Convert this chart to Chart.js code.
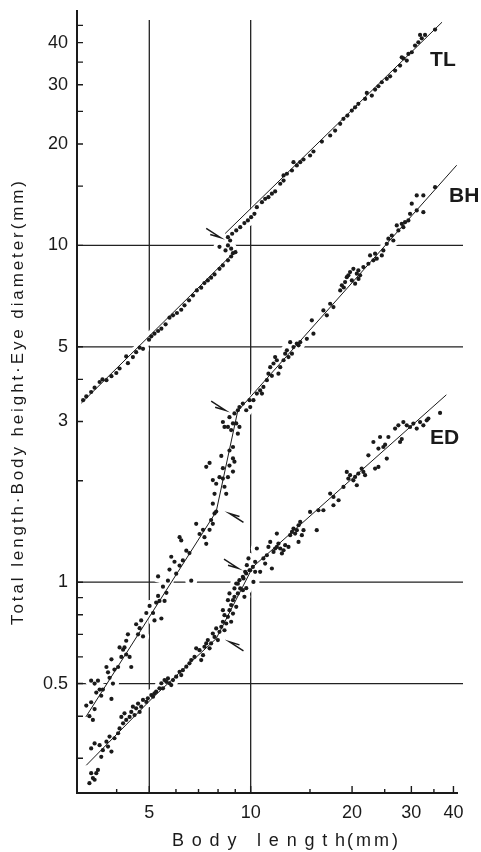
<!DOCTYPE html>
<html>
<head>
<meta charset="utf-8">
<script src="https://cdn.jsdelivr.net/npm/chart.js@4.4.1/dist/chart.umd.min.js"></script>
<style>
  html, body { margin: 0; padding: 0; background: #fff; }
  #wrap { width: 481px; height: 852px; position: relative; }
</style>
</head>
<body>
<div id="wrap"><canvas id="growth"></canvas></div>
<script>
// Relative growth: total length (TL), body height (BH), eye diameter (ED) against body length, mm

// TL measurements
const tlLen = [3.18,3.25,3.36,3.44,3.56,3.63,3.73,3.86,3.99,4.08,4.27,4.32,4.47,4.57,4.68,4.79,4.99,5.07,5.18,5.31,
  5.43,5.59,5.74,5.88,6.04,6.22,6.36,6.56,6.74,6.92,7.13,7.29,7.46,7.63,7.81,8.08,8.27,8.56,8.75,9.01,
  8.08,8.42,8.56,8.69,8.86,8.75,8.56,8.81,9.06,9.31,9.58,9.81,10.03,10.26,10.43,10.80,11.04,11.29,11.56,11.82,
  12.24,12.52,12.81,13.26,13.71,14.03,14.35,15.01,15.36,16.27,17.22,17.81,18.44,18.86,19.38,19.97,20.42,20.88,21.86,22.12,
  23.41,23.95,24.51,25.36,25.94,26.84,27.77,28.40,29.07,30.08,30.76,31.47,32.21,32.94,35.28,12.52,13.40,22.89,28.09,29.39,31.84];
const tlVal = [3.47,3.56,3.67,3.78,3.93,4.00,3.98,4.09,4.18,4.31,4.68,4.47,4.66,4.82,4.97,4.93,5.25,5.37,5.47,5.57,
  5.66,5.83,6.10,6.20,6.30,6.44,6.64,6.87,7.10,7.35,7.49,7.73,7.87,8.02,8.20,8.52,8.72,9.03,9.27,9.55,
  9.90,9.66,10.0,10.34,9.48,9.78,10.58,10.83,11.08,11.33,11.65,11.86,12.13,12.41,12.99,13.44,13.75,13.91,14.24,14.46,
  15.24,15.58,16.32,16.69,17.28,17.66,17.99,18.49,19.00,20.34,21.20,21.93,22.96,23.76,24.30,25.14,25.71,26.32,27.23,28.37,
  29.02,29.69,30.51,31.23,31.78,33.04,34.20,35.94,35.38,37.45,39.20,40.10,41.21,42.18,43.73,16.13,17.66,27.86,36.19,37.04,42.18];

// BH measurements
const bhLen = [3.25,3.36,3.44,3.32,3.40,3.36,3.44,3.52,3.48,3.60,3.56,3.64,3.86,3.73,3.77,3.86,3.81,3.94,3.90,4.04,
  4.13,4.18,4.27,4.32,4.37,4.27,4.42,4.08,4.22,4.57,4.68,4.63,4.79,4.73,4.90,5.01,5.13,5.18,5.24,5.31,
  5.36,5.43,5.55,5.62,5.49,5.31,5.68,5.74,5.81,5.94,6.01,6.15,6.29,6.44,6.66,6.58,6.15,6.22,6.89,7.05,
  7.22,7.29,7.38,7.55,7.72,7.63,7.81,7.90,
  7.72,7.81,7.72,7.90,8.08,8.27,8.36,8.46,8.56,8.65,8.86,8.95,8.86,8.18,7.38,7.55,8.27,8.86,8.65,8.75,
  8.56,8.86,9.06,9.16,9.26,8.36,8.27,8.65,8.95,9.16,9.26,9.48,9.70,9.92,
  9.97,10.19,10.43,10.67,10.91,11.17,11.29,11.43,11.69,11.82,11.96,12.09,12.24,12.52,12.66,12.81,13.10,13.26,13.40,13.71,
  13.87,14.03,14.68,15.19,15.36,16.44,16.83,17.22,17.61,18.44,18.65,19.07,19.29,19.73,19.97,20.18,20.66,20.88,21.13,20.42,
  21.61,22.36,22.62,23.14,23.41,23.68,24.51,24.77,25.36,25.64,26.24,26.52,27.15,27.45,28.09,28.40,28.73,29.39,29.73,30.08,
  31.12,31.12,32.56,32.56,35.28,19.50,20.90,18.90,12.95,11.56,10.80];
const bhVal = [0.43,0.44,0.42,0.40,0.39,0.51,0.50,0.51,0.47,0.46,0.48,0.48,0.45,0.56,0.54,0.59,0.52,0.55,0.50,0.56,
  0.60,0.63,0.67,0.70,0.60,0.61,0.56,0.64,0.64,0.75,0.73,0.70,0.69,0.77,0.81,0.85,0.81,0.77,0.87,0.91,
  0.88,0.78,0.88,0.93,0.97,1.04,1.01,1.09,1.19,1.15,1.06,1.12,1.16,1.24,1.01,1.22,1.36,1.33,1.49,1.39,
  1.43,1.36,1.30,1.43,1.49,1.53,1.60,1.62,
  1.71,1.83,2.01,1.96,2.05,2.03,1.92,1.83,2.05,2.22,2.13,2.28,2.33,2.37,2.20,2.26,2.18,2.52,2.46,2.83,
  2.89,2.96,2.96,2.76,2.89,2.89,2.99,3.09,3.17,3.24,3.31,3.39,3.24,3.47,
  3.31,3.47,3.63,3.71,3.80,3.98,4.16,4.35,4.46,4.66,4.56,4.16,4.35,4.56,4.77,4.88,5.16,4.77,4.99,5.11,
  5.05,5.16,5.28,5.99,5.47,6.41,6.20,6.71,6.56,7.35,7.61,7.78,8.05,8.33,7.87,8.52,8.24,8.43,8.15,7.70,
  8.62,8.82,9.34,9.03,9.45,9.13,9.34,9.66,10.11,10.47,10.70,10.34,11.46,11.08,11.59,11.33,11.72,11.86,12.41,13.30,
  14.07,12.70,14.07,12.55,14.89,8.15,7.95,7.50,4.66,4.10,3.63];

// ED measurements
const edLen = [3.32,3.36,3.44,3.48,3.52,3.40,3.36,3.44,3.56,3.60,3.64,3.73,3.77,3.81,3.86,3.94,4.04,4.08,4.18,4.13,
  4.22,4.27,4.37,4.42,4.47,4.52,4.57,4.63,4.68,4.73,4.79,4.90,4.95,5.07,5.13,5.18,5.24,5.36,5.43,5.49,
  5.55,5.62,5.68,5.74,5.81,5.88,6.01,6.15,6.22,6.29,6.44,6.58,6.66,6.81,6.89,7.05,7.13,7.22,7.29,7.38,
  7.46,7.55,7.63,7.72,7.81,7.90,7.99,8.08,8.18,8.27,8.36,8.27,8.36,8.46,8.56,8.65,8.75,8.75,8.86,8.86,
  8.95,9.06,9.16,8.65,8.95,9.06,9.26,9.48,9.70,9.92,10.15,9.48,9.58,8.56,9.16,9.70,
  9.31,9.52,9.63,9.74,9.85,9.97,10.19,10.31,10.43,10.31,10.67,10.91,11.04,11.17,11.29,11.43,11.56,11.69,11.82,11.96,
  12.09,11.96,12.24,12.38,12.52,12.66,12.95,13.10,13.26,13.40,13.55,13.71,13.87,14.03,13.87,14.35,14.19,15.01,15.71,15.89,
  16.44,17.22,17.61,17.61,18.24,18.86,19.29,19.50,19.73,20.18,20.42,20.66,20.88,21.36,21.61,21.86,22.36,23.14,23.41,23.95,
  23.95,24.22,24.77,25.07,25.36,25.64,26.84,27.45,27.77,28.09,28.40,29.07,29.73,30.41,31.12,31.84,32.56,33.32,36.50,33.70];
const edVal = [0.253,0.271,0.259,0.271,0.277,0.262,0.321,0.332,0.328,0.303,0.317,0.336,0.325,0.348,0.314,0.344,0.356,0.368,0.381,0.398,
  0.408,0.390,0.398,0.412,0.427,0.403,0.422,0.436,0.412,0.427,0.447,0.441,0.452,0.462,0.457,0.468,0.473,0.484,0.501,0.484,
  0.512,0.506,0.518,0.501,0.495,0.512,0.524,0.542,0.530,0.548,0.561,0.574,0.587,0.600,0.636,0.628,0.587,0.607,0.643,0.658,
  0.673,0.636,0.658,0.704,0.688,0.729,0.673,0.712,0.737,0.763,0.798,0.826,0.720,0.754,0.789,0.826,0.855,0.763,0.807,0.884,
  0.905,0.845,0.926,0.926,0.958,0.991,1.014,1.037,1.061,1.085,1.110,0.947,0.905,0.884,0.990,0.960,
  0.958,1.026,1.073,1.123,1.176,1.085,1.002,1.149,1.259,1.073,1.073,1.176,1.136,1.202,1.273,1.317,1.098,1.230,1.259,1.273,
  1.302,1.394,1.259,1.217,1.244,1.288,1.273,1.379,1.410,1.443,1.394,1.427,1.476,1.510,1.317,1.427,1.379,1.617,1.427,1.635,
  1.635,1.833,1.791,1.692,1.751,1.918,2.125,2.030,2.078,2.007,2.053,1.940,2.101,2.175,2.125,2.078,2.381,2.608,2.175,2.199,
  2.493,2.698,2.520,2.560,2.328,2.698,2.858,2.923,2.608,2.660,2.989,2.923,2.889,2.957,2.858,2.989,2.923,3.025,3.180,3.060];

// fitted allometric lines (break points where the slope changes)
const tlFitLowLen = [3.14, 9.06], tlFitLowVal = [3.40, 9.67];
const tlFitHighLen = [8.40, 37.0], tlFitHighVal = [10.85, 46.0];
const bhFitLen = [3.24, 7.90, 9.15, 40.9], bhFitVal = [0.398, 1.62, 3.22, 17.3];
const edFitLen = [3.25, 5.13, 7.90, 10.15, 38.1], edFitVal = [0.286, 0.455, 0.68, 1.11, 3.60];

// axes
const xLabelTicks = [5, 10, 20, 30, 40];
const xMinorTicks = [4, 6, 7, 8, 9, 15, 25, 35];
const yLabelTicks = [0.5, 1, 3, 5, 10, 20, 30, 40];
const yMinorTicks = [0.3, 0.4, 0.6, 0.7, 0.8, 0.9, 2, 4, 15, 25, 35, 45];
const xGridLines = [5, 10];
const yGridLines = [0.5, 1, 5, 10];

// inflection arrows and curve names
const arrowLen = [8.12, 8.40, 8.65, 9.17, 8.65];
const arrowVal = [10.56, 3.24, 1.60, 1.10, 0.665];
const arrowDir = ['dr', 'dr', 'ul', 'dr', 'ul'];
const curveNames = ['TL', 'BH', 'ED'];
const nameLen = [34.1, 38.8, 34.1];
const nameVal = [34.2, 13.5, 2.57];

const pts = (xs, ys) => xs.map((v, i) => ({ x: v, y: ys[i] }));
const INK = '#1a1a1a';
const FONT = '"Liberation Sans", Arial, sans-serif';

const dots = (label, xs, ys) => ({
  label, data: pts(xs, ys), order: 0,
  pointRadius: 2.1, pointHoverRadius: 2.1, backgroundColor: INK, borderWidth: 0
});
// white patch under the scatter so grid lines break where the points cross them
const halo = (xs, ys) => ({
  data: pts(xs, ys), order: 2,
  pointRadius: 6, pointHoverRadius: 6, backgroundColor: '#fff', borderWidth: 0
});
const fit = (xs, ys) => ({
  data: pts(xs, ys), order: 1, showLine: true, tension: 0,
  pointRadius: 0, borderColor: INK, borderWidth: 1
});

const decor = {
  id: 'decor',
  beforeDatasetsDraw(chart) {
    const { ctx, chartArea: a, scales: { x, y } } = chart;
    ctx.save();
    ctx.strokeStyle = '#222';
    ctx.lineWidth = 1.3;
    ctx.beginPath();
    yGridLines.forEach(v => {
      const p = y.getPixelForValue(v);
      ctx.moveTo(a.left, p); ctx.lineTo(a.right, p);
    });
    xGridLines.forEach(v => {
      const p = x.getPixelForValue(v);
      ctx.moveTo(p, a.bottom); ctx.lineTo(p, a.top + 10);
    });
    ctx.stroke();
    ctx.restore();
  },
  afterDatasetsDraw(chart) {
    const { ctx, chartArea: a, scales: { x, y } } = chart;
    ctx.save();
    ctx.strokeStyle = INK;
    ctx.fillStyle = INK;

    // axis lines
    ctx.lineWidth = 2;
    ctx.beginPath();
    ctx.moveTo(a.left, a.top); ctx.lineTo(a.left, a.bottom);
    ctx.lineTo(a.right - 5, a.bottom);
    ctx.stroke();

    // inward tick marks
    ctx.lineWidth = 1.4;
    ctx.beginPath();
    xLabelTicks.forEach(v => { const p = x.getPixelForValue(v); ctx.moveTo(p, a.bottom + 1); ctx.lineTo(p, a.bottom - 7); });
    xMinorTicks.forEach(v => { const p = x.getPixelForValue(v); ctx.moveTo(p, a.bottom); ctx.lineTo(p, a.bottom - 4); });
    yLabelTicks.concat(yMinorTicks).forEach(v => { const p = y.getPixelForValue(v); ctx.moveTo(a.left, p); ctx.lineTo(a.left + 6, p); });
    ctx.stroke();

    // arrows marking the inflections
    ctx.lineWidth = 1.5;
    ctx.beginPath();
    arrowLen.forEach((v, i) => {
      const px = x.getPixelForValue(v), py = y.getPixelForValue(arrowVal[i]);
      const s = arrowDir[i] === 'dr' ? -1 : 1;
      ctx.moveTo(px + s * 14, py + s * 9); ctx.lineTo(px, py);
      ctx.lineTo(px + s * 10, py + s * 3);
    });
    ctx.stroke();

    // curve names
    ctx.font = 'bold 21px ' + FONT;
    ctx.textAlign = 'left';
    ctx.textBaseline = 'alphabetic';
    curveNames.forEach((t, i) => ctx.fillText(t, x.getPixelForValue(nameLen[i]), y.getPixelForValue(nameVal[i])));

    // axis titles
    ctx.font = '18px ' + FONT;
    ctx.letterSpacing = '7.8px';
    const xa = 'Body length';
    const w1 = ctx.measureText(xa).width - 7.8;
    const x0 = a.left + 95;
    ctx.fillText(xa, x0, a.bottom + 53);
    ctx.letterSpacing = '3px';
    ctx.fillText('(mm)', x0 + w1 + 2, a.bottom + 53);

    ctx.font = '17px ' + FONT;
    ctx.letterSpacing = '2.9px';
    ctx.translate(23, (a.top + a.bottom) / 2);
    ctx.rotate(-Math.PI / 2);
    ctx.textAlign = 'center';
    ctx.fillText('Total length\u00b7Body height\u00b7Eye diameter(mm)', 0, 0);
    ctx.restore();
  }
};

new Chart(document.getElementById('growth'), {
  type: 'scatter',
  data: {
    datasets: [
      dots('TL', tlLen, tlVal), dots('BH', bhLen, bhVal), dots('ED', edLen, edVal),
      fit(tlFitLowLen, tlFitLowVal), fit(tlFitHighLen, tlFitHighVal),
      fit(bhFitLen, bhFitVal), fit(edFitLen, edFitVal),
      halo(tlLen, tlVal), halo(bhLen, bhVal), halo(edLen, edVal)
    ]
  },
  options: {
    responsive: true,
    maintainAspectRatio: false,
    animation: false,
    events: [],
    layout: { padding: { left: 0, top: 10, right: 18, bottom: 0 } },
    plugins: { legend: { display: false }, tooltip: { enabled: false } },
    scales: {
      x: {
        type: 'logarithmic', min: 3.05, max: 42.7,
        afterBuildTicks: s => { s.ticks = xLabelTicks.map(v => ({ value: v })); },
        afterFit: s => { s.height = 59; s.paddingLeft = 0; s.paddingRight = 0; },
        grid: { display: false, drawTicks: false },
        border: { display: false },
        ticks: { callback: v => String(v), autoSkip: false, maxRotation: 0, padding: 9,
                 color: INK, font: { family: FONT, size: 18 } }
      },
      y: {
        type: 'logarithmic', min: 0.2366, max: 50,
        afterBuildTicks: s => { s.ticks = yLabelTicks.map(v => ({ value: v })); },
        afterFit: s => { s.width = 77; s.paddingTop = 0; s.paddingBottom = 0; },
        grid: { display: false, drawTicks: false },
        border: { display: false },
        ticks: { callback: v => String(v), autoSkip: false, padding: 9,
                 color: INK, font: { family: FONT, size: 18 } }
      }
    }
  },
  plugins: [decor]
});
</script>
</body>
</html>
